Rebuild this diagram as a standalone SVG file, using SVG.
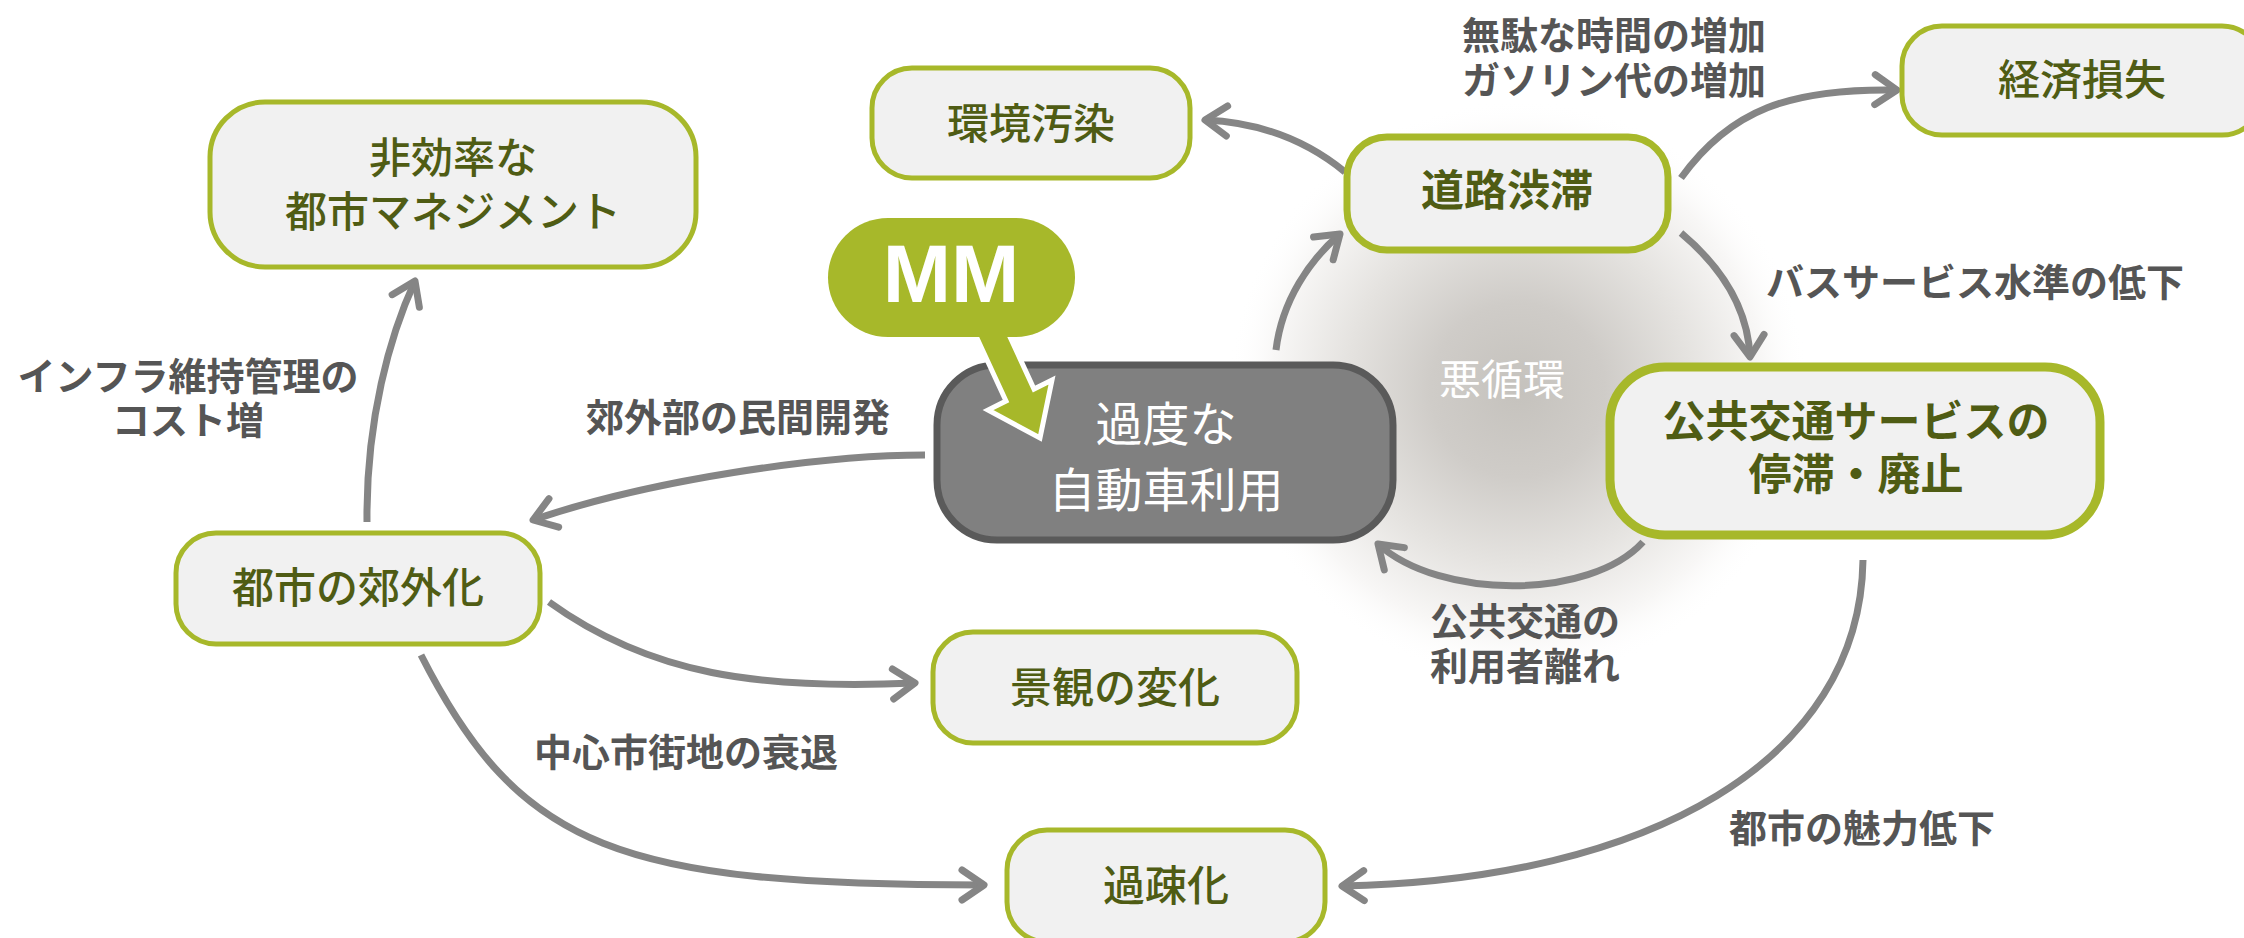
<svg xmlns="http://www.w3.org/2000/svg" width="2244" height="938" viewBox="0 0 2244 938">
<defs>
<style>
.node rect{fill:#f1f1f1;stroke:#a7b82a;stroke-width:5}
.nt{font-family:"Noto Sans CJK JP","Noto Sans",sans-serif;font-size:42px;fill:#4f5c14;text-anchor:middle;font-weight:500}
.nb{font-weight:700;font-size:43px}
.lbl{font-family:"Noto Sans CJK JP","Noto Sans",sans-serif;font-size:38px;fill:#555555;text-anchor:middle;font-weight:700}
.conn path{fill:none;stroke:#858585;stroke-width:7;marker-end:url(#ah)}
</style>
<marker id="ah" markerUnits="userSpaceOnUse" markerWidth="60" markerHeight="60" viewBox="-30 -30 60 60" refX="0" refY="0" orient="auto" overflow="visible">
<path d="M-22,-15 L0,0 L-22,15" fill="none" stroke="#858585" stroke-width="7" stroke-linecap="round" stroke-linejoin="round"/>
</marker>
<radialGradient id="vg" gradientUnits="userSpaceOnUse" cx="1518" cy="390" r="290">
<stop offset="0" stop-color="#c5c2bd"/>
<stop offset="0.3" stop-color="#cfccc8"/>
<stop offset="0.6" stop-color="#e5e3e0"/>
<stop offset="0.85" stop-color="#f8f7f6"/>
<stop offset="1" stop-color="#ffffff" stop-opacity="0"/>
</radialGradient>
</defs>
<rect width="2244" height="938" fill="#ffffff"/>
<circle cx="1518" cy="390" r="290" fill="url(#vg)"/>
<text x="1502" y="395" font-family="Noto Sans CJK JP, sans-serif" font-size="42" fill="#ffffff" text-anchor="middle">悪循環</text>

<g id="connectors" class="conn">
<path d="M1345,172 C1300,135 1250,122 1205,120"/>
<path d="M1276,350 C1282,300 1310,260 1340,234"/>
<path d="M1681,178 C1730,110 1790,88 1897,90"/>
<path d="M1681,233 C1725,270 1748,310 1750,357"/>
<path d="M1643,542 C1590,600 1440,600 1378,544"/>
<path d="M1863,560 C1860,760 1650,880 1342,886"/>
<path d="M925,455 C820,455 650,480 533,520"/>
<path d="M367,522 C366,420 390,335 415,281"/>
<path d="M549,602 C650,675 760,690 915,683"/>
<path d="M421,655 C520,850 620,885 984,885"/>
</g>

<g id="labels">
<text class="lbl" x="1614" y="49">無駄な時間の増加<tspan x="1614" y="94">ガソリン代の増加</tspan></text>
<text class="lbl" x="1975" y="296">バスサービス水準の低下</text>
<text class="lbl" x="188" y="390">インフラ維持管理の<tspan x="188" y="434">コスト増</tspan></text>
<text class="lbl" x="738" y="431">郊外部の民間開発</text>
<text class="lbl" x="686" y="766">中心市街地の衰退</text>
<text class="lbl" x="1525" y="635">公共交通の<tspan x="1525" y="680">利用者離れ</tspan></text>
<text class="lbl" x="1862" y="842">都市の魅力低下</text>
</g>

<g id="n-inefficient" class="node">
<rect x="210" y="102" width="486" height="165" rx="55"/>
<text class="nt" x="453" y="173">非効率な<tspan x="453" y="227">都市マネジメント</tspan></text>
</g>
<g id="n-pollution" class="node">
<rect x="872" y="68" width="318" height="110" rx="40"/>
<text class="nt" x="1031" y="139">環境汚染</text>
</g>
<g id="n-congestion" class="node">
<rect x="1347" y="137" width="321" height="113" rx="40" style="stroke-width:7"/>
<text class="nt nb" x="1507" y="206">道路渋滞</text>
</g>
<g id="n-loss" class="node">
<rect x="1902" y="26" width="360" height="109" rx="40"/>
<text class="nt" x="2082" y="95">経済損失</text>
</g>
<g id="n-transit" class="node">
<rect x="1610" y="367" width="490" height="168" rx="55" style="stroke-width:9"/>
<text class="nt nb" x="1856" y="437">公共交通サービスの<tspan x="1856" y="490">停滞・廃止</tspan></text>
</g>
<g id="n-suburb" class="node">
<rect x="176" y="533" width="364" height="111" rx="40"/>
<text class="nt" x="358" y="603">都市の郊外化</text>
</g>
<g id="n-landscape" class="node">
<rect x="933" y="632" width="364" height="111" rx="40"/>
<text class="nt" x="1115" y="703">景観の変化</text>
</g>
<g id="n-depop" class="node">
<rect x="1007" y="830" width="318" height="112" rx="40"/>
<text class="nt" x="1166" y="901">過疎化</text>
</g>

<g id="n-car">
<rect x="937" y="365" width="456" height="175" rx="60" fill="#808080" stroke="#5a5a5a" stroke-width="7"/>
<text x="1166" y="441" font-family="Noto Sans CJK JP, sans-serif" font-size="47" fill="#ffffff" text-anchor="middle">過度な<tspan x="1166" y="507">自動車利用</tspan></text>
</g>

<g id="n-mm">
<polygon points="976,336 1006,401 988,410 1040,438 1052,380 1034,389 1004,324" fill="#a7b82a" stroke="#ffffff" stroke-width="5" stroke-linejoin="miter"/>
<rect x="828" y="218" width="247" height="119" rx="60" fill="#a7b82a"/>
<text x="951" y="302" font-family="Liberation Sans, Arial, sans-serif" font-weight="700" font-size="82" fill="#ffffff" text-anchor="middle">MM</text>
</g>
</svg>
